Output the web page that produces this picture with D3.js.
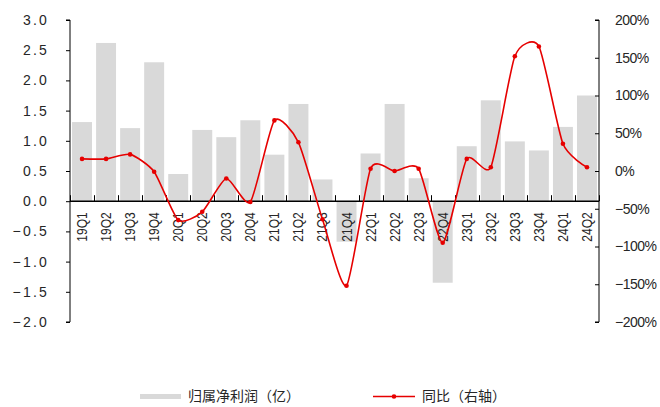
<!DOCTYPE html>
<html><head><meta charset="utf-8">
<script src="https://cdn.jsdelivr.net/npm/d3@7"></script>
<style>body{margin:0;background:#fff}svg{display:block}</style>
</head><body><svg id="c" width="660" height="407"></svg>
<script>
const categories = ["19Q1","19Q2","19Q3","19Q4","20Q1","20Q2","20Q3","20Q4","21Q1","21Q2","21Q3","21Q4","22Q1","22Q2","22Q3","22Q4","23Q1","23Q2","23Q3","23Q4","24Q1","24Q2"];
const profit = [1.31,2.62,1.21,2.30,0.45,1.18,1.06,1.34,0.77,1.61,0.36,-0.67,0.79,1.61,0.38,-1.35,0.91,1.67,0.99,0.84,1.23,1.75];
const yoy = [16,16,22,-1,-65,-54,-10,-41,67,38,-64,-152,3,0,3,-95,16,5,152,165,36,5];
const leftTicks = [3.0,2.5,2.0,1.5,1.0,0.5,0.0,-0.5,-1.0,-1.5,-2.0];
const rightTicks = [200,150,100,50,0,-50,-100,-150,-200];
const seriesNames = ["归属净利润（亿）","同比（右轴）"];

const svg = d3.select("#c");
const L = 70, R = 599, T = 20, B = 322;
const x = d3.scaleBand().domain(categories).range([L, R]).paddingInner(0.17).paddingOuter(0.085);
const yL = d3.scaleLinear().domain([-2, 3]).range([B, T]);
const yR = d3.scaleLinear().domain([-200, 200]).range([B, T]);
const font = "'Liberation Sans', Arial, sans-serif";
const txt = "#262626";

// bars
svg.append("g").selectAll("rect").data(profit).join("rect")
  .attr("x", (d,i)=>x(categories[i]))
  .attr("width", x.bandwidth())
  .attr("y", d=>yL(Math.max(0,d)))
  .attr("height", d=>Math.abs(yL(d)-yL(0)))
  .attr("fill", "#d9d9d9");

// left axis
const gl = svg.append("g").attr("transform", `translate(${L},0)`)
  .call(d3.axisLeft(yL).tickValues(leftTicks).tickSize(4).tickFormat(d=>d3.format(".1f")(d).replace("-", "−")));
gl.select(".domain").attr("stroke","#000").attr("d", `M-4,${T}H0V${B}H-4`);
gl.selectAll(".tick line").attr("stroke","#000");
gl.selectAll("text").attr("font-family", font).attr("font-size", 14).attr("fill", txt)
  .attr("x", -21).attr("letter-spacing", 2.2);

// right axis
const gr = svg.append("g").attr("transform", `translate(${R},0)`)
  .call(d3.axisRight(yR).tickValues(rightTicks).tickSize(-4).tickFormat(d=>(d<0?"−":"")+Math.abs(d)+"%"));
gr.select(".domain").attr("stroke","#000").attr("d", `M-4,${T}H0V${B}H-4`);
gr.selectAll(".tick line").attr("stroke","#000");
gr.selectAll("text").attr("font-family", font).attr("font-size", 14).attr("fill", txt).attr("x", 16).attr("letter-spacing", -0.5);

// x axis at zero
const y0 = yL(0);
const bounds = categories.map(c => x(c) - x.step()*x.paddingInner()/2).concat([R]);
const gx = svg.append("g");
gx.append("line").attr("x1", L).attr("x2", R).attr("y1", y0).attr("y2", y0).attr("stroke", "#000").attr("stroke-width", 1.5);
gx.selectAll("line.t").data(bounds).join("line").attr("class","t")
  .attr("x1", d=>Math.round(d)+0.5).attr("x2", d=>Math.round(d)+0.5).attr("y1", y0-6).attr("y2", y0).attr("stroke","#000");
gx.selectAll("text").data(categories).join("text")
  .attr("transform", d=>`translate(${x(d)+x.bandwidth()/2+5},${y0+11}) rotate(-90) scale(0.86,1)`)
  .attr("text-anchor","end")
  .attr("font-family", font)
  .attr("font-size", 14).attr("fill", txt).text(d=>d);

// line
const cx = (d,i)=>x(categories[i]) + x.bandwidth()/2;
const line = d3.line().x(cx).y(d=>yR(d)).curve(d3.curveCardinal.tension(0.37));
svg.append("path").datum(yoy).attr("d", line).attr("fill","none").attr("stroke","#e60000").attr("stroke-width",1.6);
svg.append("g").selectAll("circle").data(yoy).join("circle")
  .attr("cx", cx).attr("cy", d=>yR(d)).attr("r", 2.3).attr("fill","#e60000");

// legend
const lg = svg.append("g");
lg.append("rect").attr("x",140).attr("y",394).attr("width",41).attr("height",5).attr("fill","#d9d9d9");
lg.append("text").attr("x",188).attr("y",401).attr("font-family","'Noto Sans CJK SC', sans-serif").attr("font-size",14).attr("fill",txt).text(seriesNames[0]);
lg.append("line").attr("x1",373).attr("x2",415).attr("y1",396.5).attr("y2",396.5).attr("stroke","#e60000").attr("stroke-width",1.6);
lg.append("circle").attr("cx",394).attr("cy",396.5).attr("r",2.3).attr("fill","#e60000");
lg.append("text").attr("x",422).attr("y",401).attr("font-family","'Noto Sans CJK SC', sans-serif").attr("font-size",14).attr("fill",txt).text(seriesNames[1]);
</script></body></html>
